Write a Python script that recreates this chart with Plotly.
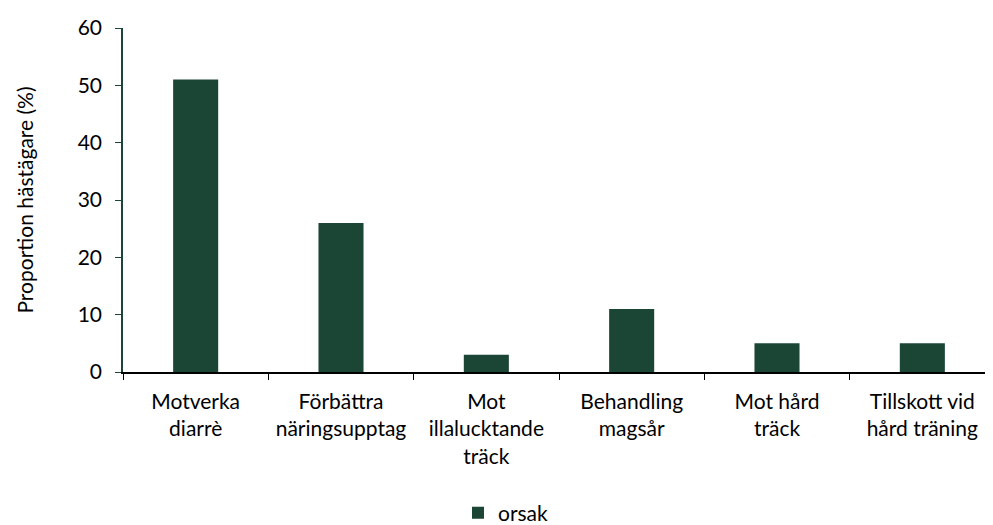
import plotly.graph_objects as go

categories = ["Motverka<br>diarrè", "Förbättra<br>näringsupptag", "Mot<br>illalucktande<br>träck",
              "Behandling<br>magsår", "Mot hård<br>träck", "Tillskott vid<br>hård träning"]
values = [51, 26, 3, 11, 5, 5]
series_name = "orsak"
y_ticks = [0, 10, 20, 30, 40, 50, 60]

FONT = "Lato, 'Open Sans', sans-serif"
BAR = "#1b4636"
FS = 21

fig = go.Figure()
fig.add_trace(go.Bar(x=categories, y=values, name=series_name,
                     marker=dict(color=BAR, line=dict(width=0)), width=0.31))

fig.update_layout(
    width=993, height=525,
    margin=dict(l=115, r=6, t=16, b=161),
    paper_bgcolor="white", plot_bgcolor="white",
    font=dict(family=FONT, size=FS, color="#000000"),
    showlegend=True,
    legend=dict(orientation="h", x=0.5015, xref="container", xanchor="center",
                y=0.038, yref="container", yanchor="middle",
                font=dict(size=FS)),
)
fig.update_xaxes(type="category", showline=True, linecolor="#000000", linewidth=1.5,
                 ticks="outside", tickson="boundaries", ticklen=6, tickcolor="#000000",
                 showgrid=False, tickfont=dict(size=FS), ticklabelstandoff=10)
fig.update_yaxes(range=[0, 60], tickvals=y_ticks, showline=True, linecolor="#1b4636",
                 linewidth=1.5, ticks="outside", ticklen=6, tickcolor="#1b4636",
                 showgrid=False, zeroline=False, tickfont=dict(size=FS), ticklabelstandoff=9,
                 title=dict(text="Proportion hästägare (%)", font=dict(size=FS), standoff=38))

fig.write_html("out.html")
